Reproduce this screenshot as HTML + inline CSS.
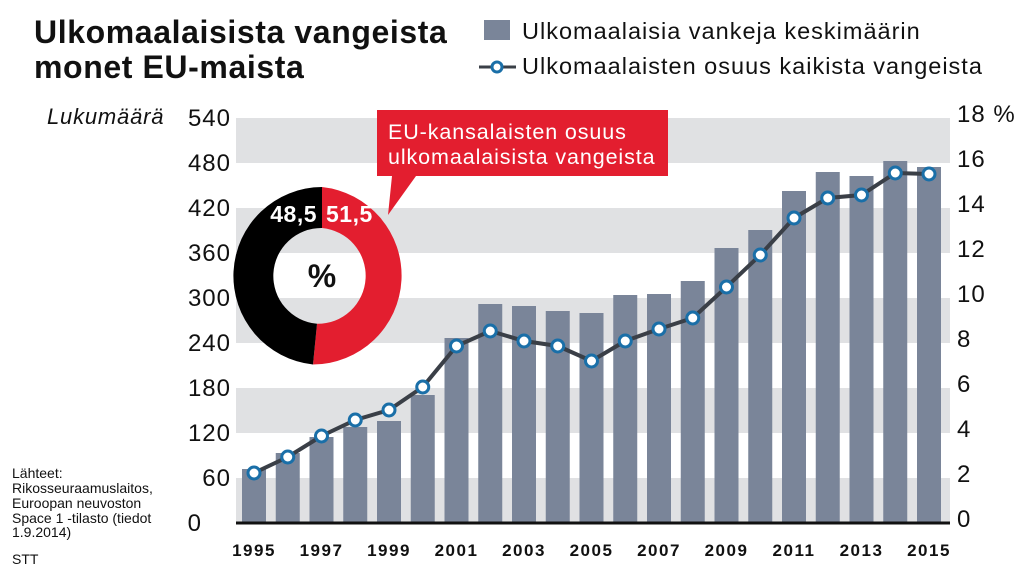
<!DOCTYPE html>
<html><head><meta charset="utf-8"><style>
html,body{margin:0;padding:0;background:#fff;}
svg{display:block;font-family:"Liberation Sans",sans-serif;}
</style></head><body>
<svg width="1024" height="576" viewBox="0 0 1024 576" xmlns="http://www.w3.org/2000/svg">
<g fill="#e0e1e3">
<rect x="236" y="118" width="714" height="45"/>
<rect x="236" y="208" width="714" height="45"/>
<rect x="236" y="298" width="714" height="45"/>
<rect x="236" y="388" width="714" height="45"/>
<rect x="236" y="478" width="714" height="45"/>
</g>
<text x="34" y="43" font-size="32" font-weight="bold" letter-spacing="0.6" fill="#111">Ulkomaalaisista vangeista</text>
<text x="34" y="78" font-size="32" font-weight="bold" letter-spacing="0.6" fill="#111">monet EU-maista</text>
<rect x="484" y="20" width="26" height="20" fill="#7a8599"/>
<text x="522" y="39" font-size="23.5" letter-spacing="1" fill="#111">Ulkomaalaisia vankeja keskimäärin</text>
<line x1="479" y1="67" x2="516" y2="67" stroke="#3a3f47" stroke-width="3"/>
<circle cx="497" cy="67" r="5" fill="#fff" stroke="#1a6fa8" stroke-width="3"/>
<text x="522" y="74" font-size="23.5" letter-spacing="1" fill="#111">Ulkomaalaisten osuus kaikista vangeista</text>
<text x="47" y="124" font-size="22" font-style="italic" letter-spacing="0.8" fill="#111">Lukumäärä</text>
<g font-size="24" letter-spacing="1" fill="#111" text-anchor="end">
<text x="231" y="126">540</text><text x="231" y="171">480</text><text x="231" y="216">420</text>
<text x="231" y="261">360</text><text x="231" y="306">300</text><text x="231" y="351">240</text>
<text x="231" y="396">180</text><text x="231" y="441">120</text><text x="231" y="486">60</text>
<text x="202" y="531">0</text>
</g>
<g font-size="24" letter-spacing="1" fill="#111">
<text x="957" y="122">18 %</text><text x="957" y="167">16</text><text x="957" y="212">14</text>
<text x="957" y="257">12</text><text x="957" y="302">10</text><text x="957" y="347">8</text>
<text x="957" y="392">6</text><text x="957" y="437">4</text><text x="957" y="482">2</text>
<text x="957" y="527">0</text>
</g>
<g fill="#7a8599" id="bars"></g>
<script>
var vals=[469,453,437,427,421,395,338,304,306,311,313,295,294,281,248,230,191,172,176,161,167];
var pts=[473,457,436,420,410,387,346,331,341,346,361,341,329,318,287,255,218,198,195,173,174];
var ns="http://www.w3.org/2000/svg",svg=document.querySelector("svg"),g=document.getElementById("bars");
var d="";
for(var i=0;i<21;i++){var cx=254+i*33.75;var r=document.createElementNS(ns,"rect");
r.setAttribute("x",cx-12);r.setAttribute("y",vals[i]);r.setAttribute("width",24);r.setAttribute("height",523-vals[i]);g.appendChild(r);
d+=(i?"L":"M")+cx+" "+pts[i];}
var ax=document.createElementNS(ns,"line");ax.setAttribute("x1",236);ax.setAttribute("x2",950);ax.setAttribute("y1",523);ax.setAttribute("y2",523);ax.setAttribute("stroke","#111");ax.setAttribute("stroke-width",3);svg.appendChild(ax);
var p=document.createElementNS(ns,"path");p.setAttribute("d",d);p.setAttribute("fill","none");p.setAttribute("stroke","#3a3f47");p.setAttribute("stroke-width",4);svg.appendChild(p);
for(var i=0;i<21;i++){var c=document.createElementNS(ns,"circle");c.setAttribute("cx",254+i*33.75);c.setAttribute("cy",pts[i]);c.setAttribute("r",6);c.setAttribute("fill","#fff");c.setAttribute("stroke","#1a6fa8");c.setAttribute("stroke-width",3);svg.appendChild(c);}
for(var i=0;i<21;i+=2){var t=document.createElementNS(ns,"text");t.setAttribute("x",254+i*33.75);t.setAttribute("y",556);t.setAttribute("text-anchor","middle");t.setAttribute("font-size","17");t.setAttribute("letter-spacing","1.5");t.setAttribute("font-weight","bold");t.setAttribute("fill","#111");t.textContent=1995+i;svg.appendChild(t);}
</script>
<path d="M322 187 A89 89 0 0 1 313 364.5 L317 323.8 A48 48 0 0 0 322 228 Z" fill="#e31e2f"/>
<path d="M322 187 A89 89 0 0 0 313 364.5 L317 323.8 A48 48 0 0 1 322 228 Z" fill="#000"/>
<text x="322" y="287" font-size="32" font-weight="bold" text-anchor="middle" fill="#111">%</text>
<text x="317" y="222" font-size="23" font-weight="bold" letter-spacing="0.5" text-anchor="end" fill="#fff">48,5</text>
<text x="326" y="222" font-size="23" font-weight="bold" letter-spacing="0.5" fill="#fff">51,5</text>
<path d="M377 110 L668 110 L668 176 L416 176 L388 215 L392 176 L377 176 Z" fill="#e31e2f"/>
<text x="388" y="139" font-size="21.5" letter-spacing="0.9" fill="#fff">EU-kansalaisten osuus</text>
<text x="388" y="164" font-size="21.5" letter-spacing="0.9" fill="#fff">ulkomaalaisista vangeista</text>
<g font-size="14" fill="#111">
<text x="12" y="478">Lähteet:</text><text x="12" y="493">Rikosseuraamuslaitos,</text>
<text x="12" y="508">Euroopan neuvoston</text><text x="12" y="523">Space 1 -tilasto (tiedot</text>
<text x="12" y="537">1.9.2014)</text><text x="12" y="564">STT</text>
</g>
</svg>
</body></html>
